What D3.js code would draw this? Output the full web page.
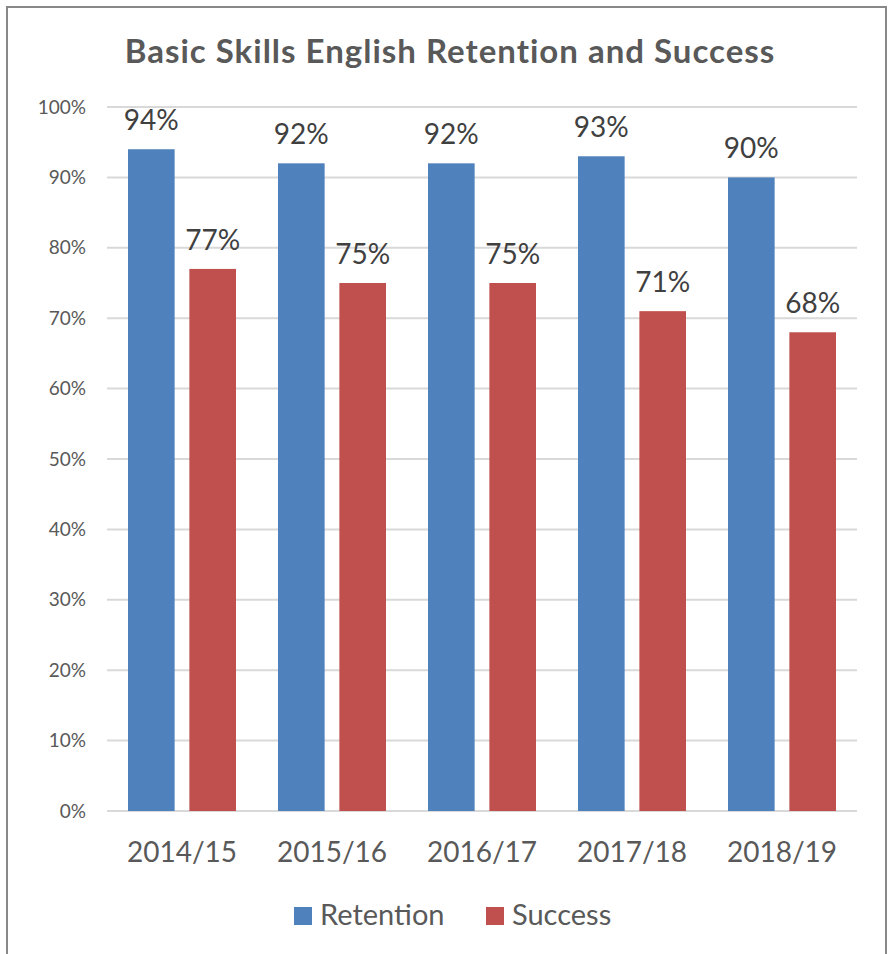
<!DOCTYPE html>
<html>
<head>
<meta charset="utf-8">
<script src="https://cdn.jsdelivr.net/npm/d3@7/dist/d3.min.js"></script>
<style>
  html, body { margin: 0; padding: 0; background: #fff; }
  svg { display: block; }
  text { font-family: Lato, "Open Sans", sans-serif; fill: #595959; }
</style>
</head>
<body>
<svg id="chart" width="890" height="954"></svg>
<script>
// Academic years on the x axis
const years = ["2014/15", "2015/16", "2016/17", "2017/18", "2018/19"];
// Series names and colours
const seriesNames = ["Retention", "Success"];
const seriesColors = ["#4F81BD", "#C0504D"];
// Percentages per year
const retention = [94, 92, 92, 93, 90];
const success = [77, 75, 75, 71, 68];
// Y axis ticks
const yTicks = [0, 10, 20, 30, 40, 50, 60, 70, 80, 90, 100];
const title = "Basic Skills English Retention and Success";

const svg = d3.select("#chart");

// Outer frame
svg.append("rect")
  .attr("x", 7).attr("y", 7)
  .attr("width", 879).attr("height", 960)
  .attr("fill", "#fff")
  .attr("stroke", "#888888")
  .attr("stroke-width", 2);

const plot = { left: 107, right: 857, top: 107, bottom: 811 };

const x = d3.scaleBand()
  .domain(years)
  .range([plot.left, plot.right])
  .paddingInner(0.28)
  .paddingOuter(0.14);

const xSub = d3.scaleBand()
  .domain(seriesNames)
  .range([0, x.bandwidth()])
  .paddingInner(0.24);

const y = d3.scaleLinear()
  .domain([0, 100])
  .range([plot.bottom, plot.top]);

// Title
svg.append("text")
  .attr("x", 450).attr("y", 63)
  .attr("text-anchor", "middle")
  .style("font-weight", "bold")
  .style("font-size", "33px")
  .style("letter-spacing", "1px")
  .text(title);

// Gridlines
svg.append("g")
  .selectAll("line")
  .data(yTicks)
  .join("line")
  .attr("x1", plot.left).attr("x2", plot.right)
  .attr("y1", d => y(d)).attr("y2", d => y(d))
  .attr("stroke", "#D9D9D9")
  .attr("stroke-width", 2);

// Y axis labels
const yAxis = d3.axisLeft(y).tickValues(yTicks).tickFormat(d => d + "%").tickSize(0).tickPadding(0);
const gy = svg.append("g")
  .attr("transform", `translate(${plot.left - 21},0)`)
  .call(yAxis);
gy.select(".domain").remove();
gy.selectAll("text")
  .style("font-size", "19px")
  .style("font-family", "Lato, 'Open Sans', sans-serif")
  .attr("fill", "#595959");

// X axis labels
const xAxis = d3.axisBottom(x).tickSize(0).tickPadding(0);
const gx = svg.append("g")
  .attr("transform", `translate(0,${plot.bottom + 51})`)
  .call(xAxis);
gx.select(".domain").remove();
gx.selectAll("text")
  .attr("dy", 0)
  .style("font-size", "28px")
  .style("font-family", "Lato, 'Open Sans', sans-serif")
  .attr("fill", "#595959");

// Bars
const rows = years.map((yr, i) => ({
  year: yr,
  values: [
    { name: seriesNames[0], value: retention[i], color: seriesColors[0] },
    { name: seriesNames[1], value: success[i], color: seriesColors[1] }
  ]
}));

const groups = svg.append("g")
  .selectAll("g")
  .data(rows)
  .join("g")
  .attr("transform", d => `translate(${x(d.year)},0)`);

groups.selectAll("rect")
  .data(d => d.values)
  .join("rect")
  .attr("x", d => xSub(d.name))
  .attr("y", d => y(d.value))
  .attr("width", xSub.bandwidth())
  .attr("height", d => y(0) - y(d.value))
  .attr("fill", d => d.color);

// Value labels above each bar
groups.selectAll("text")
  .data(d => d.values)
  .join("text")
  .attr("x", d => xSub(d.name) + xSub.bandwidth() / 2)
  .attr("y", d => y(d.value) - 19)
  .attr("text-anchor", "middle")
  .style("font-size", "28px")
  .style("fill", "#404040")
  .text(d => d.value + "%");

// Legend
const legendItems = [
  { name: seriesNames[0], color: seriesColors[0], x: 294 },
  { name: seriesNames[1], color: seriesColors[1], x: 486 }
];
const lg = svg.append("g")
  .selectAll("g")
  .data(legendItems)
  .join("g")
  .attr("transform", d => `translate(${d.x},907)`);
lg.append("rect")
  .attr("width", 18).attr("height", 18)
  .attr("fill", d => d.color);
lg.append("text")
  .attr("x", 26).attr("y", 18)
  .style("font-size", "29px")
  .text(d => d.name);
</script>
</body>
</html>
